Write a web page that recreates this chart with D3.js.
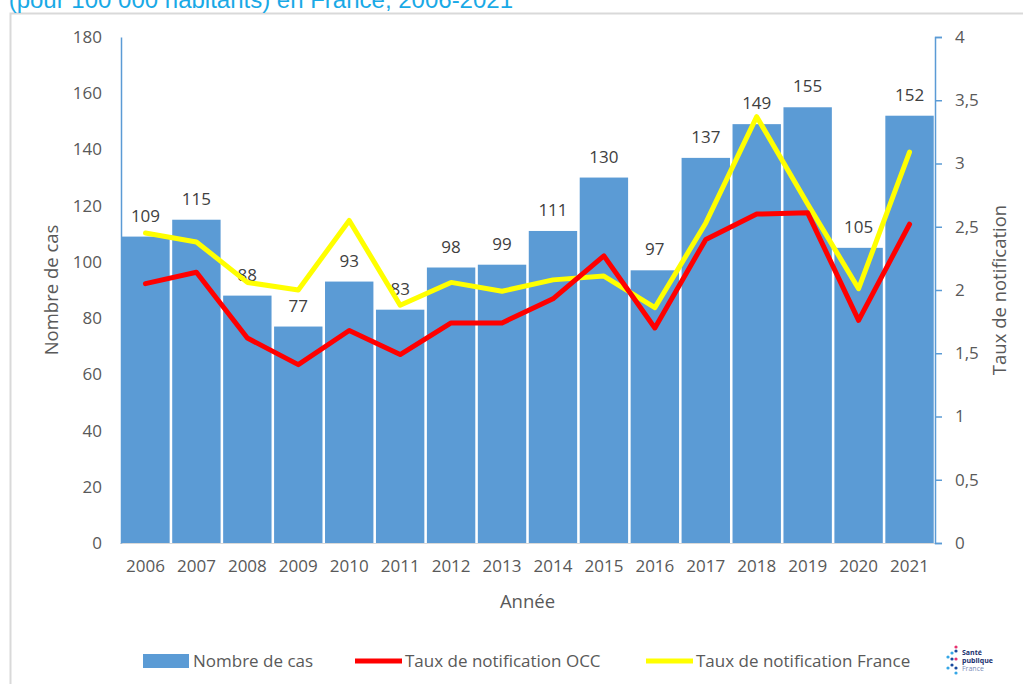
<!DOCTYPE html>
<html><head><meta charset="utf-8">
<script src="https://cdn.jsdelivr.net/npm/d3@7"></script>
<style>
html,body{margin:0;padding:0;background:#fff;}
svg{display:block;font-family:"Open Sans",sans-serif;}
</style></head>
<body>
<svg id="c" width="1023" height="684"></svg>
<script>
const years = ["2006","2007","2008","2009","2010","2011","2012","2013","2014","2015","2016","2017","2018","2019","2020","2021"];
const cases = [109,115,88,77,93,83,98,99,111,130,97,137,149,155,105,152];
const rateOCC = [2.05,2.14,1.62,1.41,1.68,1.49,1.74,1.74,1.93,2.27,1.70,2.40,2.60,2.61,1.76,2.52];
const rateFrance = [2.45,2.38,2.06,2.00,2.55,1.88,2.06,1.99,2.08,2.11,1.86,2.53,3.37,2.68,2.01,3.09];
const leftTicks = [0,20,40,60,80,100,120,140,160,180];
const rightTicks = [0,0.5,1,1.5,2,2.5,3,3.5,4];
const legendItems = ["Nombre de cas","Taux de notification OCC","Taux de notification France"];
const titleText = "r (pour 100 000 habitants) en France, 2006-2021";

const svg = d3.select("#c");
const L = 120, R = 935, T = 37, B = 543;

// frame
svg.append("path").attr("d","M10.5,684 V13.5 H1023").attr("fill","none").attr("stroke","#d9d9d9").attr("stroke-width",2);
// cut title
svg.append("text").attr("x",-6).attr("y",8).attr("fill","#19a9e6").attr("font-family","Liberation Sans, Arial, sans-serif")
  .attr("font-size",24).text(titleText);

const x = d3.scaleBand().domain(years).range([L,R]).paddingInner(0.05).paddingOuter(0.025);
const y = d3.scaleLinear().domain([0,180]).range([B,T]);
const y2 = d3.scaleLinear().domain([0,4]).range([B,T]);

// bars
svg.append("g").selectAll("rect").data(years).join("rect")
  .attr("x",d=>x(d)).attr("width",x.bandwidth())
  .attr("y",(d,i)=>y(cases[i])).attr("height",(d,i)=>B-y(cases[i]))
  .attr("fill","#5b9bd5");

// bottom axis line
svg.append("line").attr("x1",L).attr("x2",R).attr("y1",B+0.5).attr("y2",B+0.5).attr("stroke","#d9d9d9").attr("stroke-width",1);

// left axis
const gl = svg.append("g").attr("transform",`translate(${L+1},0)`)
  .call(d3.axisLeft(y).tickValues(leftTicks).tickSize(0).tickPadding(19));
gl.select(".domain").attr("stroke","#5b9bd5").attr("stroke-width",1.5);
gl.selectAll("text").attr("font-size",17).attr("fill","#595959").attr("font-family","Open Sans, sans-serif");

// right axis
const gr = svg.append("g").attr("transform",`translate(${R},0)`)
  .call(d3.axisRight(y2).tickValues(rightTicks).tickSize(7).tickSizeOuter(7).tickPadding(13)
    .tickFormat(d=>String(d).replace(".",",")));
gr.select(".domain").attr("stroke","#5b9bd5").attr("stroke-width",1.5);
gr.selectAll(".tick line").attr("stroke","#5b9bd5").attr("stroke-width",1.5);
gr.selectAll("text").attr("font-size",17).attr("fill","#595959").attr("font-family","Open Sans, sans-serif");

// x axis labels
const gx = svg.append("g").attr("transform",`translate(0,${B})`)
  .call(d3.axisBottom(x).tickSize(0).tickPadding(17));
gx.select(".domain").remove();
gx.selectAll("text").attr("font-size",17).attr("fill","#595959").attr("font-family","Open Sans, sans-serif");

// bar value labels
svg.append("g").selectAll("text").data(years).join("text")
  .attr("x",d=>x(d)+x.bandwidth()/2).attr("y",(d,i)=>y(cases[i])-15)
  .attr("text-anchor","middle").attr("font-size",17).attr("fill","#404040")
  .text((d,i)=>cases[i]);

// lines
const line = d3.line().x((d,i)=>x(years[i])+x.bandwidth()/2).y(d=>y2(d));
svg.append("path").datum(rateFrance).attr("d",line).attr("fill","none").attr("stroke","#ffff00").attr("stroke-width",5).attr("stroke-linejoin","round").attr("stroke-linecap","round");
svg.append("path").datum(rateOCC).attr("d",line).attr("fill","none").attr("stroke","#ff0000").attr("stroke-width",5).attr("stroke-linejoin","round").attr("stroke-linecap","round");

// axis titles
svg.append("text").attr("transform","translate(58,290) rotate(-90)").attr("text-anchor","middle")
  .attr("font-size",18.5).attr("fill","#595959").text("Nombre de cas");
svg.append("text").attr("transform","translate(1006,290) rotate(-90)").attr("text-anchor","middle")
  .attr("font-size",18.5).attr("fill","#595959").text("Taux de notification");
svg.append("text").attr("x",(L+R)/2).attr("y",608).attr("text-anchor","middle")
  .attr("font-size",18.5).attr("fill","#595959").text("Année");

// legend
const lg = svg.append("g").attr("font-size",17).attr("fill","#595959");
lg.append("rect").attr("x",143).attr("y",654).attr("width",46).attr("height",14).attr("fill","#5b9bd5");
lg.append("text").attr("x",193).attr("y",667).text(legendItems[0]);
lg.append("line").attr("x1",355).attr("x2",402).attr("y1",661).attr("y2",661).attr("stroke","#ff0000").attr("stroke-width",5);
lg.append("text").attr("x",405).attr("y",667).text(legendItems[1]);
lg.append("line").attr("x1",646).attr("x2",693).attr("y1",661).attr("y2",661).attr("stroke","#ffff00").attr("stroke-width",5);
lg.append("text").attr("x",696).attr("y",667).text(legendItems[2]);

// logo
const logo = svg.append("g").attr("transform","translate(946,646)");
const dots = [[4,1,"#e8336f"],[4,5,"#1a4a9e"],[0,7,"#35a7e6"],[-4,11,"#35a7e6"],[0,13,"#1a4a9e"],[4,13,"#e8336f"],[0,19,"#1a4a9e"],[-4,22,"#35a7e6"],[4,22,"#1a4a9e"],[4,27,"#35a7e6"]];
logo.selectAll("circle").data(dots).join("circle").attr("cx",d=>d[0]+6).attr("cy",d=>d[1]).attr("r",1.6).attr("fill",d=>d[2]);
logo.append("text").attr("x",16).attr("y",9).attr("font-size",7).attr("font-weight","bold").attr("fill","#1a2f6e").text("Santé");
logo.append("text").attr("x",16).attr("y",17).attr("font-size",7).attr("font-weight","bold").attr("fill","#1a2f6e").text("publique");
logo.append("text").attr("x",16).attr("y",25).attr("font-size",7).attr("fill","#7a8cb8").text("France");
</script>
</body></html>
